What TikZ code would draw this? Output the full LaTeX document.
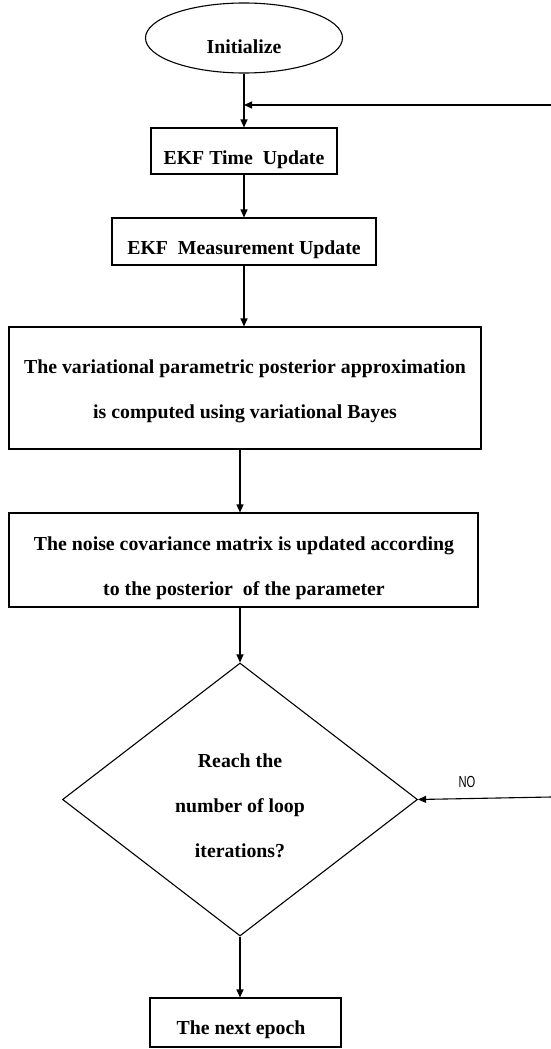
\documentclass[tikz,border=0pt]{standalone}
\usepackage{fontspec}
\setmainfont{Liberation Serif}
\newfontfamily\nofont[FakeStretch=0.7]{Liberation Sans}
\usetikzlibrary{shapes.geometric,arrows.meta}
\begin{document}
\begin{tikzpicture}[x=1pt,y=-1pt,
  shapeline/.style={draw, line width=1.1pt, inner sep=0pt},
  box/.style={shapeline, rectangle},
  txt/.style={font=\bfseries\fontsize{19.8}{22}\selectfont, anchor=base, inner sep=0pt},
  arr/.style={line width=1.1pt, -{Triangle[length=8pt,width=7pt]}},
  nolabel/.style={font=\nofont\fontsize{16}{18}\selectfont, anchor=base, inner sep=0pt}
]
\useasboundingbox (0,0) rectangle (551,1049);

% nodes
\node[shapeline, ellipse, minimum width=197pt, minimum height=70pt] (init) at (244,38) {};
\node[txt] (initt) at (244,54) {Initialize};

\node[box, minimum width=186pt, minimum height=46pt] (tu) at (244,151) {};
\node[txt] (tut) at (244,164.5) {EKF Time\ \ Update};

\node[box, minimum width=264pt, minimum height=47pt] (mu) at (244,241.5) {};
\node[txt] (mut) at (244,254.5) {EKF\ \ Measurement Update};

\node[box, minimum width=472pt, minimum height=122pt] (vb) at (245,388) {};
\node[txt] (vt1) at (245,373) {The variational parametric posterior approximation};
\node[txt] (vt2) at (245,418) {is computed using variational Bayes};

\node[box, minimum width=469pt, minimum height=94pt] (nb) at (243.5,560) {};
\node[txt] (nt1) at (244,550) {The noise covariance matrix is updated according};
\node[txt] (nt2) at (244,595) {to the posterior\ \ of the parameter};

\node[shapeline, diamond, minimum width=355pt, minimum height=273pt] (dm) at (240,799.5) {};
\node[txt] (dt1) at (240,767) {Reach the};
\node[txt] (dt2) at (240,812) {number of loop};
\node[txt] (dt3) at (240,857) {iterations?};

\node[box, minimum width=191pt, minimum height=49pt] (ne) at (245.5,1022.5) {};
\node[txt] (net) at (241,1034) {The next epoch};

\node[nolabel] (nol) at (467,787) {NO};

\coordinate (fb) at (551,105);
\coordinate (noin) at (551,797);

% connectors
\draw[arr] (init.south) -- (tu.north);
\draw[arr] (fb) -- (fb -| tu.north);
\draw[arr] (tu.south) -- (mu.north);
\draw[arr] (mu.south) -- (mu.south |- vb.north);
\draw[arr] (vb.south -| dm.north) -- (nb.north -| dm.north);
\draw[arr] (nb.south -| dm.north) -- (dm.north);
\draw[arr] (dm.south) -- (dm.south |- ne.north);
\draw[arr] (noin) -- (dm.east);
\end{tikzpicture}
\end{document}
